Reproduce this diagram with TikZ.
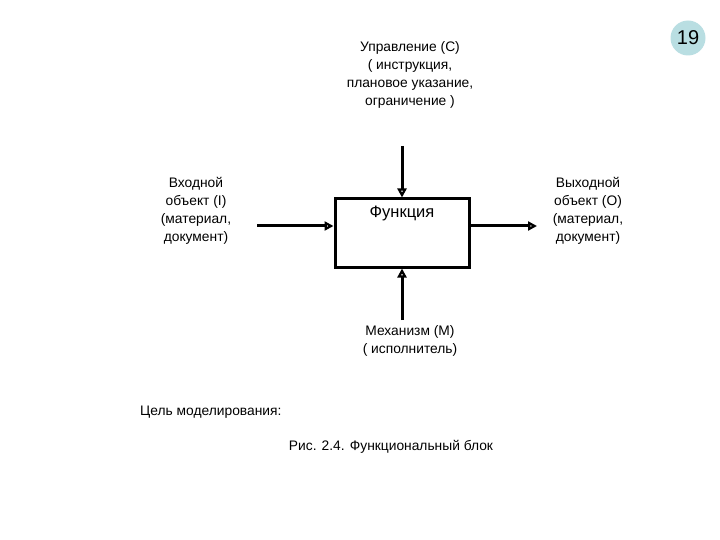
\documentclass[tikz,border=0pt]{standalone}
\usepackage{fontspec}
\setmainfont{Liberation Sans}
\usetikzlibrary{arrows.meta}
\definecolor{badge}{HTML}{B9DEE2}
\tikzset{
  lbl/.style={font=\fontsize{13.8}{18}\selectfont, align=center, inner sep=0pt},
  conn/.style={line width=3pt, -{Triangle[open, length=9pt, width=9pt, line width=3pt]}},
  fbox/.style={draw, line width=3pt, minimum width=134pt, minimum height=68pt, inner sep=0pt}
}
\begin{document}
\begin{tikzpicture}[x=1pt,y=-1pt]
\useasboundingbox (0,0) rectangle (720,540);
\node[fbox] (f) at (402,233) {};
\node[lbl, font=\fontsize{16.5}{18}\selectfont] (ft) at (402,213) {Функция};
\coordinate (ctop) at (402,146);
\coordinate (cbot) at (402,320);
\coordinate (cin) at (257,226);
\coordinate (cout) at (537,226);
\draw[conn] (ctop) -- (ctop |- f.north);
\draw[conn] (cbot) -- (cbot |- f.south);
\draw[conn] (cin) -- (cin -| f.west);
\draw[conn] (cin -| f.east) -- (cout);
\node[lbl] (c) at (410,75) {Управление (С)\\( инструкция,\\плановое указание,\\ограничение )};
\node[lbl] (i) at (196,211) {Входной\\объект (I)\\(материал,\\документ)};
\node[lbl] (o) at (588,211) {Выходной\\объект (O)\\(материал,\\документ)};
\node[lbl] (m) at (410,341) {Механизм (М)\\( исполнитель)};
\node[lbl, anchor=west] (g) at (140,412) {Цель моделирования:};
\node[lbl] (r) at (391,447) {Рис. 2.4. Функциональный блок};
\node[circle, fill=badge, minimum size=35pt, inner sep=0pt, font=\fontsize{20}{22}\selectfont] (n) at (688,38) {19};
\end{tikzpicture}
\end{document}
